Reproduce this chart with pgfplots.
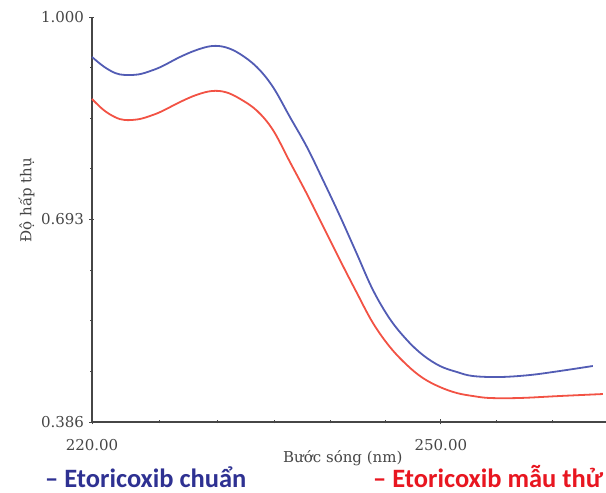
\documentclass[border=0pt]{standalone}
\usepackage{fontspec}
\setmainfont{DejaVu Serif}
\newfontfamily\legendfont{Carlito}
\usepackage{pgfplots}
\pgfplotsset{compat=1.18}
\definecolor{bluecurve}{RGB}{82,92,180}
\definecolor{redcurve}{RGB}{242,82,68}
\definecolor{legblue}{RGB}{46,49,146}
\definecolor{legred}{RGB}{232,22,32}
\definecolor{axgray}{RGB}{70,70,70}
\begin{document}
\begin{tikzpicture}[x=1pt,y=1pt]
\useasboundingbox (0,0) rectangle (606,493);
\begin{axis}[
  at={(92pt,71pt)}, anchor=south west,
  width=514pt, height=405pt, scale only axis,
  xmin=220, xmax=264.2, ymin=0.386, ymax=1.0,
  axis lines*=left,
  axis line style={draw=axgray, line width=1.1pt, -},
  xtick={220,250}, xticklabels={220.00,250.00},
  minor xtick={225.76,230.75,235.65,240.46,245.19,254.81,259.63},
  ytick={0.386,0.693,1.0}, yticklabels={0.386,0.693,1.000},
  minor ytick={0.4628,0.5395,0.6163,0.7698,0.8465,0.9233},
  tick align=center,
  major tick length=5pt, minor tick length=3pt,
  every tick/.style={draw=axgray, line width=0.8pt},
  tick label style={font=\fontsize{15}{18}\selectfont, text=axgray},
  /pgf/number format/assume math mode=true,
  xticklabel style={anchor=base, yshift=-26pt},
  yticklabel style={anchor=east, xshift=-2pt},
  xlabel={Bước sóng (nm)},
  xlabel style={at={(rel axis cs:0.488,0)}, anchor=base, yshift=-41pt, font=\fontsize{15}{18}\selectfont, text=axgray},
  ylabel={Độ hấp thụ},
  ylabel style={at={(axis description cs:-0.118,0.548)}, anchor=base, rotate=0, font=\fontsize{15}{18}\selectfont, text=axgray},
  clip=false,
]
\addplot[bluecurve, line width=1.8pt, smooth, tension=0.6] coordinates {
(220.00,0.9394) (221.00,0.9250) (222.00,0.9150) (222.84,0.9121) (224.00,0.9130)
(225.00,0.9180) (226.00,0.9250) (227.57,0.9394) (229.00,0.9500) (230.32,0.9560)
(231.50,0.9540) (232.72,0.9440) (234.18,0.9240) (235.56,0.8939) (237.02,0.8484)
(238.48,0.8029) (239.86,0.7529) (241.32,0.6983) (242.78,0.6407) (244.16,0.5861)
(245.62,0.5421) (247.08,0.5103) (248.45,0.4876) (249.92,0.4709) (251.38,0.4618)
(252.75,0.4557) (255.07,0.4542) (257.65,0.4572) (260.23,0.4633) (263.07,0.4709)
};
\addplot[redcurve, line width=1.8pt, smooth, tension=0.6] coordinates {
(220.00,0.8757) (221.00,0.8590) (222.00,0.8480) (222.84,0.8438) (224.00,0.8450)
(225.00,0.8500) (226.00,0.8570) (227.57,0.8711) (229.00,0.8820) (230.32,0.8878)
(231.50,0.8860) (232.72,0.8760) (234.18,0.8580) (235.56,0.8287) (237.02,0.7802)
(238.48,0.7317) (239.86,0.6831) (241.32,0.6316) (242.78,0.5816) (244.16,0.5361)
(245.62,0.4997) (247.08,0.4724) (248.45,0.4527) (249.92,0.4390) (251.38,0.4299)
(252.75,0.4254) (254.21,0.4224) (256.79,0.4224) (260.23,0.4254) (263.93,0.4284)
};
\end{axis}
\node[anchor=base west, inner sep=0pt, text=legblue, font=\legendfont\bfseries\fontsize{26.5}{30}\selectfont] at (45,5) {– Etoricoxib chuẩn};
\node[anchor=base west, inner sep=0pt, text=legred, font=\legendfont\bfseries\fontsize{26.5}{30}\selectfont] at (373,5) {– Etoricoxib mẫu thử};
\end{tikzpicture}
\end{document}
